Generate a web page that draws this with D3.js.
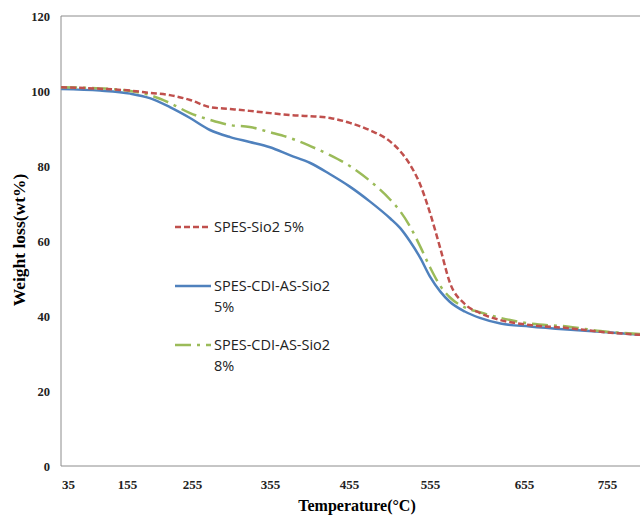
<!DOCTYPE html>
<html>
<head>
<meta charset="utf-8">
<script src="https://cdn.jsdelivr.net/npm/d3@7"></script>
<style>
  body { margin: 0; background: #fff; }
  svg { display: block; }
</style>
</head>
<body>
<div id="chart"></div>
<script>
// Temperatures (°C) of the sampled points
const temperature = [21, 100, 160, 190, 221, 252, 278, 304, 329, 355, 380, 406, 431, 456, 481, 506, 518, 530, 543, 555, 566, 576, 592, 608, 630, 662, 707, 747, 795]

// Weight loss (wt%) for each sample
const spesSio2 = [101, 100.6, 100.1, 99.5, 98.9, 97.6, 95.7, 95.2, 94.7, 94.1, 93.6, 93.3, 92.8, 91.5, 89.5, 86.5, 84, 80.5, 75, 67.5, 58, 49, 43.2, 40.8, 38.9, 37.6, 36.8, 35.8, 35]
const spesCdi5 = [100.5, 100.1, 99.3, 98.1, 95.7, 92.8, 89.6, 87.7, 86.4, 85, 82.9, 80.8, 77.8, 74.5, 70.5, 66, 63.5, 60, 55.5, 50.5, 46.5, 43.8, 41.2, 39.5, 38, 37.2, 36.4, 35.8, 35]
const spesCdi8 = [101, 100.7, 100, 98.9, 96.8, 94.1, 92.3, 90.9, 90.4, 89, 87.5, 85.3, 82.9, 80, 76, 71, 68, 64, 58.5, 53, 48, 45, 42.3, 41, 39.5, 38, 37.2, 36, 35.2]

// Axis labels
const xTicks = [35, 155, 255, 355, 455, 555, 655, 755]
const yTicks = [0, 20, 40, 60, 80, 100, 120]

const seriesNames = ['SPES-Sio2 5%', 'SPES-CDI-AS-Sio2 5%', 'SPES-CDI-AS-Sio2 8%']

const W = 640
const H = 516
const margin = { top: 16, right: 0, bottom: 50, left: 61 }
const width = W - margin.left - margin.right
const height = H - margin.top - margin.bottom

// category-like axis of the original: labels are not evenly spaced
const xTickPos = [7, 66, 131, 209, 288, 369, 463, 546]

const svg = d3.select('#chart').append('svg')
  .attr('width', W)
  .attr('height', H)

const g = svg.append('g')
  .attr('transform', `translate(${margin.left},${margin.top})`)

const x = d3.scaleLinear()
  .domain(xTicks)
  .range(xTickPos)

const y = d3.scaleLinear()
  .domain([0, 120])
  .range([height, 0])

// Plot border (top, left, bottom)
g.append('path')
  .attr('d', `M${width + 5},0H0V${height}H${width + 5}`)
  .attr('fill', 'none')
  .attr('stroke', '#8c8c8c')
  .attr('stroke-width', 1)

// Axes
const xAxis = g.append('g')
  .attr('transform', `translate(0,${height})`)
  .call(d3.axisBottom(x).tickValues(xTicks).tickSize(0).tickPadding(14))
xAxis.select('.domain').remove()
xAxis.selectAll('text')
  .style('font-family', '"Liberation Serif", serif')
  .style('font-weight', 'bold')
  .style('font-size', '13px')
  .attr('fill', '#222')

const yAxis = g.append('g')
  .call(d3.axisLeft(y).tickValues(yTicks).tickSize(0).tickPadding(11))
yAxis.select('.domain').remove()
yAxis.selectAll('text')
  .style('font-family', '"Liberation Serif", serif')
  .style('font-weight', 'bold')
  .style('font-size', '12.5px')
  .attr('fill', '#222')

// Axis titles
svg.append('text')
  .attr('x', 357)
  .attr('y', 511)
  .attr('text-anchor', 'middle')
  .style('font-family', '"Liberation Serif", serif')
  .style('font-weight', 'bold')
  .style('font-size', '16px')
  .text('Temperature(°C)')

svg.append('text')
  .attr('transform', 'translate(25,240) rotate(-90)')
  .attr('text-anchor', 'middle')
  .style('font-family', '"Liberation Serif", serif')
  .style('font-weight', 'bold')
  .style('font-size', '17.5px')
  .text('Weight loss(wt%)')

// Lines
const series = [
  { name: seriesNames[0], values: spesSio2, color: '#C0504D', dash: '6,3' },
  { name: seriesNames[1], values: spesCdi5, color: '#4F81BD', dash: null },
  { name: seriesNames[2], values: spesCdi8, color: '#9BBB59', dash: '16,6,3,6' }
]

svg.append('clipPath')
  .attr('id', 'plot-clip')
  .append('rect')
  .attr('width', width)
  .attr('height', height)

const line = d3.line()
  .x((d, i) => x(temperature[i]))
  .y(d => y(d))
  .curve(d3.curveMonotoneX)

const lines = g.append('g').attr('clip-path', 'url(#plot-clip)')
// draw blue first so the dashed ones sit on top like the original
;[series[1], series[2], series[0]].forEach(s => {
  lines.append('path')
    .datum(s.values)
    .attr('d', line)
    .attr('fill', 'none')
    .attr('stroke', s.color)
    .attr('stroke-width', 2.5)
    .attr('stroke-dasharray', s.dash)
})

// Legend
const legend = svg.append('g').attr('class', 'legend')
const legendRows = [
  { s: series[0], y: 227, lines: ['SPES-Sio2 5%'] },
  { s: series[1], y: 286, lines: ['SPES-CDI-AS-Sio2', '5%'] },
  { s: series[2], y: 345, lines: ['SPES-CDI-AS-Sio2', '8%'] }
]
legendRows.forEach(r => {
  legend.append('line')
    .attr('x1', 175)
    .attr('x2', 211)
    .attr('y1', r.y)
    .attr('y2', r.y)
    .attr('stroke', r.s.color)
    .attr('stroke-width', 2.5)
    .attr('stroke-dasharray', r.s.dash)
  const t = legend.append('text')
    .attr('x', 214)
    .attr('y', r.y + 5)
    .style('font-family', '"Open Sans", sans-serif')
    .style('font-size', '14.5px')
    .attr('fill', '#222')
  r.lines.forEach((l, i) => {
    t.append('tspan')
      .attr('x', 214)
      .attr('dy', i === 0 ? 0 : 21)
      .text(l)
  })
})
</script>
</body>
</html>
